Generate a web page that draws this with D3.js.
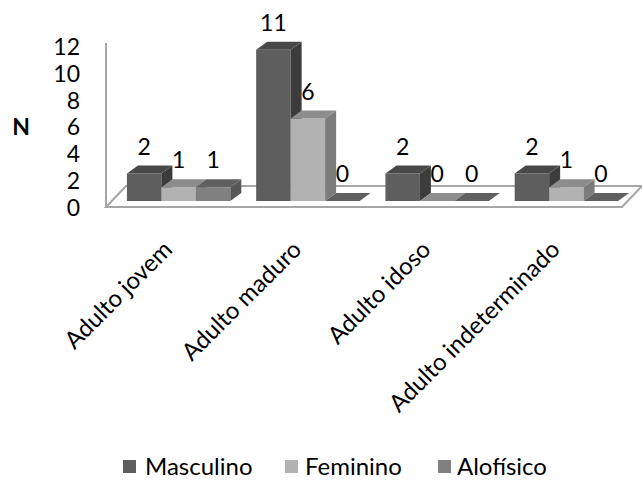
<!DOCTYPE html>
<html>
<head>
<meta charset="utf-8">
<script src="https://cdn.jsdelivr.net/npm/d3@7"></script>
<style>
  html, body { margin: 0; padding: 0; background: #fff; }
  svg { display: block; }
  text { font-family: Lato, "Open Sans", sans-serif; fill: #000; }
</style>
</head>
<body>
<svg id="chart" width="642" height="492"></svg>
<script>
// Categories and series
const categories = ["Adulto jovem", "Adulto maduro", "Adulto idoso", "Adulto indeterminado"];
const seriesNames = ["Masculino", "Feminino", "Alofísico"];
const masculino = [2, 11, 2, 2];
const feminino = [1, 6, 0, 1];
const alofisico = [1, 0, 0, 0];
const yTicks = [0, 2, 4, 6, 8, 10, 12];

const seriesValues = [masculino, feminino, alofisico];

// Face shades per series: front, top, side
const faceColors = [
  { front: "#5e5e5e", top: "#484848", side: "#3c3c3c" },
  { front: "#b2b2b2", top: "#8d8d8d", side: "#7c7c7c" },
  { front: "#808080", top: "#606060", side: "#575757" }
];
const legendColors = ["#5e5e5e", "#b2b2b2", "#808080"];

const svg = d3.select("#chart");

// Depth offsets for the 3D look
const depthX = 11, depthY = -8;          // bar depth
const floorDX = 20, floorDY = -21;       // floor depth

// Scales
const x0 = d3.scaleBand().domain(categories).range([114, 631]).paddingInner(0.2).paddingOuter(0.1);
const x1 = d3.scaleBand().domain(seriesNames).range([0, x0.bandwidth()]);
const yBar = d3.scaleLinear().domain([0, 12]).range([201, 201 - 12 * 13.75]);
const yAxisScale = d3.scaleLinear().domain([0, 12]).range([208, 47]);

// Floor and wall edge
const floorLeft = 106, floorRight = 622, floorFront = 207;
const grid = svg.append("g").attr("fill", "none").attr("stroke", "#a6a6a6").attr("stroke-width", 2);
grid.append("path")
  .attr("fill", "#fff")
  .attr("d", `M${floorLeft},${floorFront} L${floorRight},${floorFront} L${floorRight + floorDX},${floorFront + floorDY} L${floorLeft + floorDX},${floorFront + floorDY} Z`);
grid.append("line")
  .attr("x1", floorLeft).attr("x2", floorLeft)
  .attr("y1", 43).attr("y2", floorFront);

// Bars
const bars = svg.append("g");
categories.forEach((cat, ci) => {
  seriesNames.forEach((s, si) => {
    const v = seriesValues[si][ci];
    const xa = x0(cat) + x1(s);
    const xb = xa + x1.bandwidth();
    const yb = yBar(0);
    const yt = yBar(v);
    const c = faceColors[si];
    const g = bars.append("g");
    if (v > 0) {
      g.append("path").attr("fill", c.front)
        .attr("d", `M${xa},${yb} L${xb},${yb} L${xb},${yt} L${xa},${yt} Z`);
      g.append("path").attr("fill", c.side)
        .attr("d", `M${xb},${yb} L${xb + depthX},${yb + depthY} L${xb + depthX},${yt + depthY} L${xb},${yt} Z`);
    }
    g.append("path").attr("fill", c.top)
      .attr("d", `M${xa},${yt} L${xb},${yt} L${xb + depthX},${yt + depthY} L${xa + depthX},${yt + depthY} Z`);
  });
});

// Value labels
const labels = svg.append("g").attr("font-size", 23).attr("text-anchor", "middle");
categories.forEach((cat, ci) => {
  seriesNames.forEach((s, si) => {
    const v = seriesValues[si][ci];
    labels.append("text")
      .attr("x", x0(cat) + x1(s) + x1.bandwidth() / 2)
      .attr("y", yBar(v) + depthY - 11)
      .text(v);
  });
});

// Y axis labels
const yAxis = svg.append("g")
  .attr("transform", "translate(80,0)")
  .call(d3.axisLeft(yAxisScale).tickValues(yTicks).tickSize(0).tickPadding(0));
yAxis.select(".domain").remove();
yAxis.selectAll("text").attr("font-size", 23).attr("font-family", "Lato, sans-serif").attr("fill", "#000");

// Axis title
svg.append("text")
  .attr("x", 21).attr("y", 127)
  .attr("text-anchor", "middle").attr("dy", "0.35em")
  .attr("font-size", 23).attr("font-weight", "bold")
  .text("N");

// Category labels, rotated
const catLabels = svg.append("g").attr("font-size", 24);
categories.forEach(cat => {
  const cx = x0(cat) + x0.bandwidth() / 2 - 5;
  const cy = 251;
  catLabels.append("text")
    .attr("text-anchor", "end")
    .attr("transform", `translate(${cx},${cy}) rotate(-45)`)
    .text(cat);
});

// Legend
const legendItems = [
  { name: seriesNames[0], sx: 123, tx: 145 },
  { name: seriesNames[1], sx: 285, tx: 305 },
  { name: seriesNames[2], sx: 438, tx: 457 }
];
const legend = svg.append("g");
legendItems.forEach((d, i) => {
  legend.append("rect").attr("x", d.sx).attr("y", 460).attr("width", 13).attr("height", 13).attr("fill", legendColors[i]);
  legend.append("text").attr("x", d.tx).attr("y", 475).attr("font-size", 24).text(d.name);
});
</script>
</body>
</html>
